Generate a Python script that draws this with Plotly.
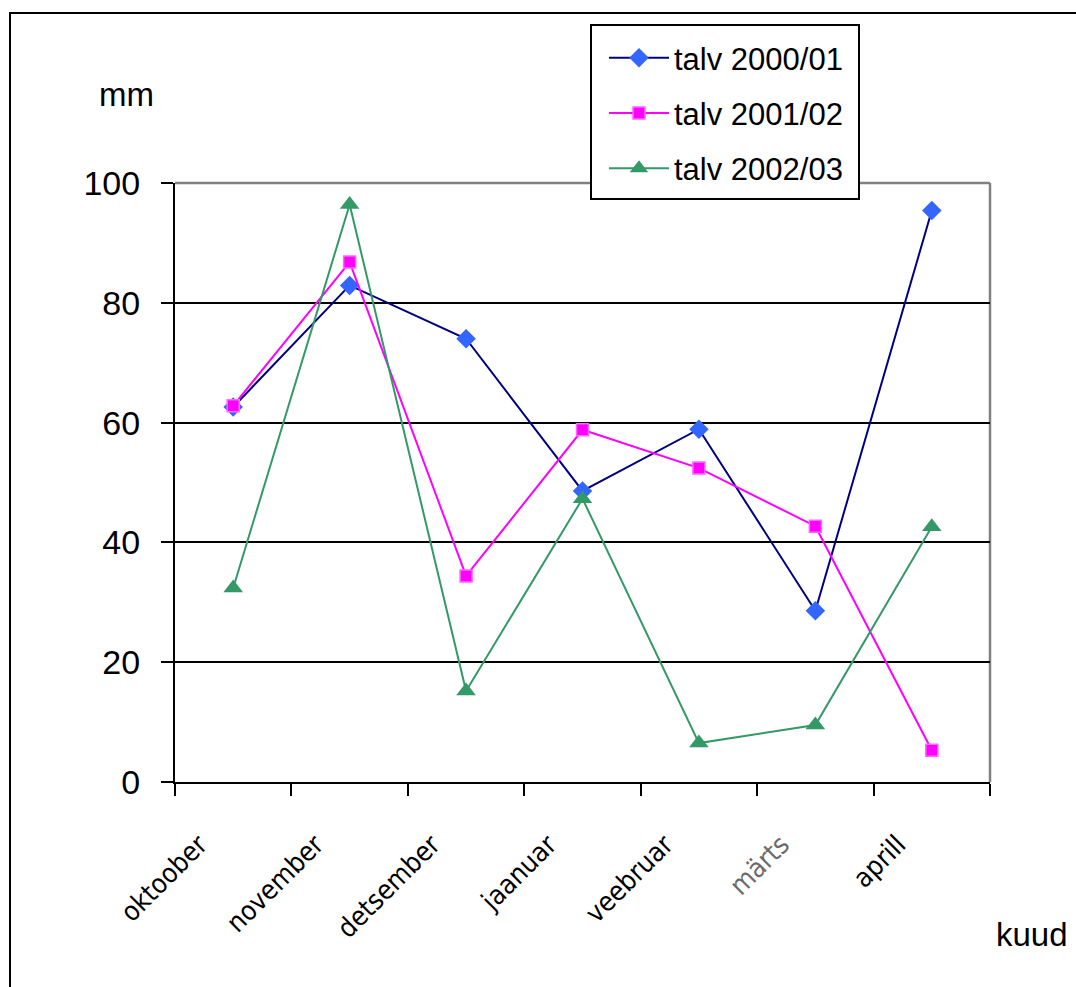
import plotly.graph_objects as go

# Monthly precipitation (mm) for three winters
months = ["oktoober", "november", "detsember", "jaanuar", "veebruar", "märts", "aprill"]
month_labels = ["oktoober", "november", "detsember", "jaanuar", "veebruar",
                "<span style='color:#6a6a6a'>märts</span>", "aprill"]
winter_2000_01 = [62.6, 82.9, 74.0, 48.6, 58.9, 28.6, 95.4]
winter_2001_02 = [62.8, 86.8, 34.4, 58.8, 52.4, 42.7, 5.3]
winter_2002_03 = [32.4, 96.4, 15.2, 47.3, 6.5, 9.5, 42.6]
y_ticks = [0, 20, 40, 60, 80, 100]

W, H = 1076, 987
L, R, T, B = 175, 86, 183, 205
pw, ph = W - L - R, H - T - B


def px_x(px):
    return (px - L) / pw


def px_y(py):
    return (H - B - py) / ph


FONT = "Liberation Sans, Arial, sans-serif"
NARROW = "Liberation Sans Narrow, Arial Narrow, DejaVu Sans Condensed, Liberation Sans, sans-serif"

fig = go.Figure()
fig.add_trace(go.Scatter(
    x=months, y=winter_2000_01, name="talv 2000/01", mode="lines+markers",
    line=dict(color="#000080", width=2),
    marker=dict(symbol="diamond", size=15, color="#3366FF", line=dict(width=0)),
    legendgroup="a"))
fig.add_trace(go.Scatter(
    x=months, y=winter_2001_02, name="talv 2001/02", mode="lines+markers",
    line=dict(color="#FF00FF", width=2),
    marker=dict(symbol="square", size=12, color="#FF00FF",
                line=dict(width=1.5, color="#FF66FF")),
    legendgroup="b"))
fig.add_trace(go.Scatter(
    x=months, y=winter_2002_03, name="talv 2002/03", mode="lines+markers",
    line=dict(color="#339966", width=2),
    marker=dict(symbol="triangle-up", size=17, color="#339966", line=dict(width=0)),
    legendgroup="c"))

fig.update_layout(
    width=W, height=H,
    margin=dict(l=L, r=R, t=T, b=B, autoexpand=False),
    paper_bgcolor="white", plot_bgcolor="white",
    font=dict(family=FONT, color="black"),
    showlegend=True,
    legend=dict(
        x=px_x(604), y=px_y(31), xanchor="left", yanchor="top",
        bgcolor="rgba(0,0,0,0)", borderwidth=0,
        font=dict(size=31, family=FONT, color="black"),
        tracegroupgap=12, traceorder="grouped", itemwidth=60,
    ),
    xaxis=dict(
        type="category", categoryorder="array", categoryarray=months,
        tickvals=months, ticktext=month_labels,
        range=[-0.5, 6.5], tickson="boundaries",
        ticks="outside", ticklen=12, tickwidth=1.5, tickcolor="black",
        showline=True, linecolor="black", linewidth=2,
        showgrid=False, zeroline=False,
        tickangle=-45, tickfont=dict(size=27, family=NARROW, color="black"),
        ticklabelstandoff=34, ticklabelshift=-34,
    ),
    yaxis=dict(
        range=[0, 100], tickvals=y_ticks,
        ticks="outside", ticklen=12, tickwidth=1.5, tickcolor="black",
        showline=True, linecolor="black", linewidth=2,
        showgrid=True, gridcolor="black", gridwidth=1.5,
        zeroline=False,
        tickfont=dict(size=34, family=FONT, color="black"),
        ticklabelstandoff=14,
    ),
    shapes=[
        # plot-area frame on the top and right
        dict(type="line", xref="paper", yref="paper", x0=0, x1=1, y0=1, y1=1,
             line=dict(color="#808080", width=2.5), layer="between"),
        dict(type="line", xref="paper", yref="paper", x0=1, x1=1, y0=0, y1=1,
             line=dict(color="#808080", width=2.5), layer="between"),
        # chart frame
        dict(type="rect", xref="paper", yref="paper",
             x0=px_x(10), x1=px_x(1090), y0=px_y(13), y1=px_y(1000),
             line=dict(color="black", width=2), layer="below"),
        # legend box
        dict(type="rect", xref="paper", yref="paper",
             x0=px_x(591), x1=px_x(859), y0=px_y(25), y1=px_y(199),
             line=dict(color="black", width=2), fillcolor="white", layer="above"),
    ],
    annotations=[
        dict(text="mm", xref="paper", yref="paper", x=px_x(126), y=px_y(95),
             xanchor="center", yanchor="middle", showarrow=False,
             font=dict(size=33, family=FONT, color="black")),
        dict(text="kuud", xref="paper", yref="paper", x=px_x(1032), y=px_y(935),
             xanchor="center", yanchor="middle", showarrow=False,
             font=dict(size=33, family=FONT, color="black")),
    ],
)

fig.write_html("out.html")
